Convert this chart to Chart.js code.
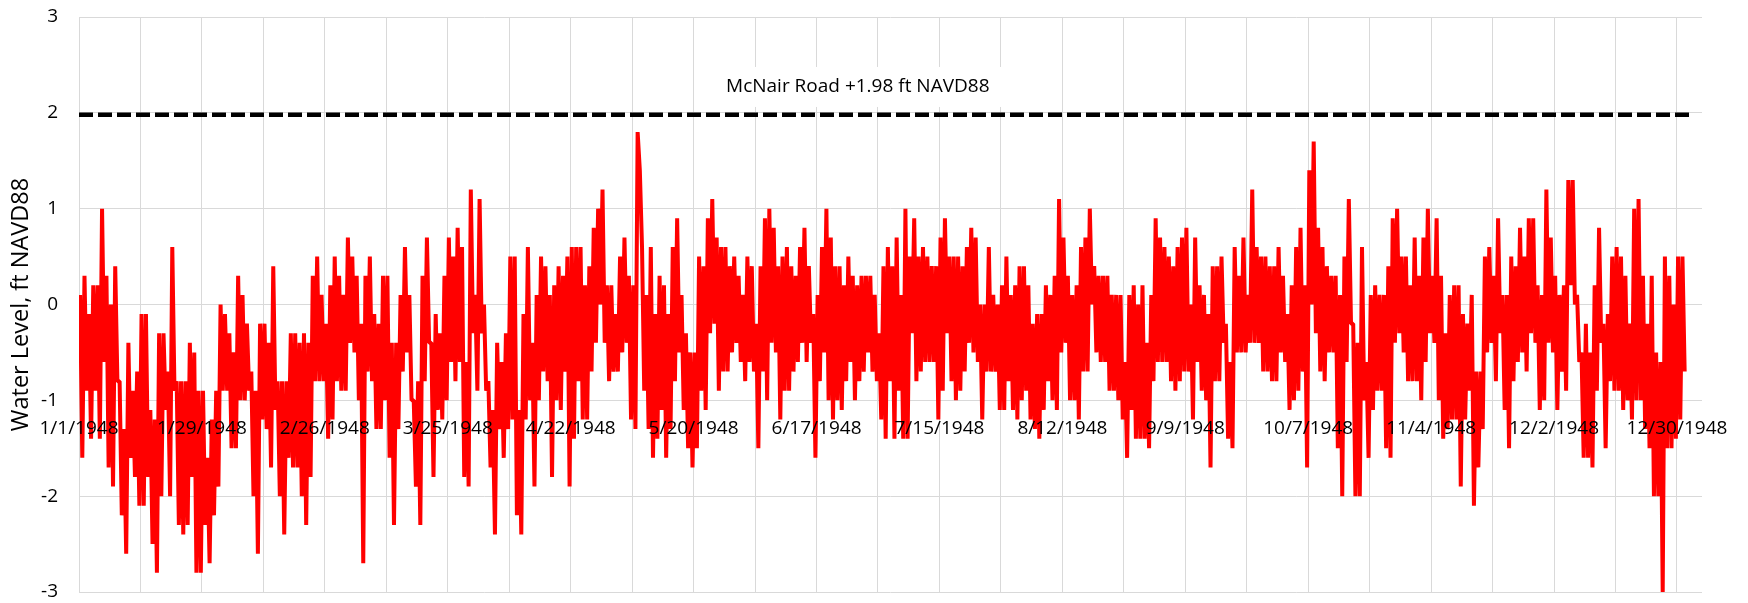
<!DOCTYPE html>
<html>
<head>
<meta charset="utf-8">
<title>Water Level 1948</title>
<script src="https://cdn.jsdelivr.net/npm/chart.js@4.4.1/dist/chart.umd.min.js"></script>
<style>
  html, body { margin: 0; padding: 0; background: #ffffff; }
  #wrap { width: 1748px; height: 603px; position: relative; }
</style>
</head>
<body>
<div id="wrap"><canvas id="chart" width="1748" height="603"></canvas></div>
<script>
// Date labels shown every 28 days along the horizontal axis (day 0 = 1/1/1948)
const tickDates = ['1/1/1948', '1/29/1948', '2/26/1948', '3/25/1948', '4/22/1948', '5/20/1948',
  '6/17/1948', '7/15/1948', '8/12/1948', '9/9/1948', '10/7/1948', '11/4/1948', '12/2/1948', '12/30/1948'];
const labelEveryDays = 28;
const gridEveryDays = 14;
const axisEndDay = 369.7;

// Daily high and low water level, ft NAVD88, one entry per day of 1948
const dailyHigh = [
  0.1, 0.3, -0.1, 0.2, 0.2, 1.0, 0.3, 0.0, 0.4, -0.8,
  -1.3, -0.4, -0.9, -0.7, -0.1, -0.1, -1.1, -1.2, -0.3, -0.3,
  -0.7, 0.6, -0.8, -0.8, -0.8, -0.4, -0.5, -0.9, -0.9, -1.6,
  -1.2, -0.9, 0.0, -0.1, -0.3, -0.5, 0.3, 0.1, -0.2, -0.7,
  -0.9, -0.2, -0.2, -0.4, 0.4, -0.8, -0.8, -0.8, -0.3, -0.3,
  -0.4, -0.3, -0.4, 0.3,
  0.5, 0.1, -0.2, 0.2, 0.5, 0.3, 0.1, 0.7, 0.5, 0.3,
  -0.2, 0.3, 0.5, -0.1, -0.2, 0.3, 0.3, -0.4, -0.4, 0.1,
  0.6, 0.1, -1.0, -0.8, 0.3, 0.7, -0.4, -0.1, -0.3, 0.3,
  0.7, 0.5, 0.8, 0.6, -0.6, 1.2, 0.1, 1.1, 0.0, -0.8,
  -1.1, -0.4, -0.6, -0.3, 0.5, 0.5, -1.1, -0.1, 0.6, -0.4,
  0.1, 0.5, 0.4, 0.1, 0.2, 0.4, 0.3, 0.5,
  0.6, 0.6, 0.6, 0.2, 0.4, 0.8, 1.0, 1.2, 0.2, 0.2,
  -0.1, 0.5, 0.7, 0.3, 0.2, 1.8, 0.6, 0.1, 0.6, -0.1,
  0.3, 0.2, -0.1, 0.6, 0.9, 0.1, -0.3, -0.5, -0.5, 0.5,
  0.4, 0.9, 1.1, 0.7, 0.6, 0.6, 0.4, 0.5, 0.3, 0.1,
  0.5, 0.4, -0.2, 0.4, 0.9, 1.0, 0.8, 0.4, 0.5, 0.6,
  0.4, 0.3, 0.6, 0.8, 0.4, -0.1, 0.1, 0.6,
  1.0, 0.7, 0.4, 0.4, 0.2, 0.5, 0.3, 0.2, 0.3, 0.3,
  0.3, 0.1, -0.3, 0.4, 0.6, 0.4, 0.7, 0.1, 1.0, 0.5,
  0.9, 0.5, 0.6, 0.5, 0.4, 0.4, 0.7, 0.9, 0.5, 0.5,
  0.5, 0.4, 0.6, 0.8, 0.7, 0.0, 0.0, 0.6, 0.1, 0.0,
  0.2, 0.5, 0.1, 0.2, 0.4, 0.4, 0.2, -0.2, -0.1, -0.1,
  0.2, 0.1, 0.3, 1.1, 0.7, 0.3, 0.1, 0.2, 0.6,
  0.7, 1.0, 0.4, 0.3, 0.3, 0.3, 0.1, 0.1, 0.1, -0.6,
  0.1, 0.2, 0.0, 0.2, -0.4, 0.1, 0.9, 0.7, 0.6, 0.5,
  0.4, 0.6, 0.7, 0.8, 0.0, 0.7, 0.2, 0.1, -0.1, 0.4,
  0.4, 0.5, -0.2, -0.6, 0.6, 0.3, 0.7, 0.1, 1.2, 0.6,
  0.5, 0.5, 0.4, 0.4, 0.6, 0.3, -0.1, 0.2, 0.6, 0.8,
  0.2, 1.4, 1.7, 0.8, 0.6, 0.4, 0.3, 0.3,
  0.1, 0.5, 1.1, -0.2, -0.4, 0.6, -0.6, 0.1, 0.2, 0.1,
  0.1, 0.4, 0.9, 1.0, 0.5, 0.5, 0.2, 0.7, 0.3, 0.7,
  1.0, 0.3, 0.9, 0.3, -0.3, 0.1, 0.2, 0.2, -0.1, -0.2,
  0.1, -0.7, -0.7, 0.5, 0.6, 0.3, 0.9, 0.1, 0.1, 0.5,
  0.4, 0.8, 0.5, 0.9, 0.9, 0.2, 0.1, 1.2, 0.7, 0.3,
  0.1, 0.2, 1.3, 1.3, 0.1, -0.5, -0.2, -0.5, 0.2, 0.8,
  -0.2, -0.1, 0.5, 0.6, 0.5, 0.3, -0.2, 1.0,
  1.1, 0.3, -0.2, 0.3, -0.5, -0.6, 0.5, 0.3, 0.0, 0.5, 0.5
];

const dailyLow = [
  -1.6, -0.9, -1.4, -0.9, -1.4, -0.6, -1.7, -1.9, -0.8, -2.2,
  -2.6, -1.6, -1.8, -2.1, -2.1, -1.8, -2.5, -2.8, -2.0, -1.1,
  -2.0, -0.9, -2.3, -2.4, -2.3, -1.8, -2.8, -2.8, -2.3, -2.7,
  -2.2, -1.9, -0.9, -0.9, -1.5, -1.5, -1.0, -1.0, -0.9, -2.0,
  -2.6, -1.2, -1.3, -1.7, -1.1, -2.0, -2.4, -1.6, -1.7, -1.7,
  -2.0, -2.3, -1.8, -0.8,
  -0.8, -0.8, -1.4, -1.2, -0.8, -0.9, -0.9, -0.4, -0.5, -1.0,
  -2.7, -0.7, -0.8, -1.3, -1.3, -1.0, -1.6, -2.3, -1.3, -0.7,
  -0.5, -1.0, -1.9, -2.3, -0.8, -0.4, -1.8, -1.1, -1.2, -1.0,
  -0.6, -0.8, -0.6, -1.8, -1.9, -0.3, -0.9, -0.3, -0.9, -1.7,
  -2.4, -1.3, -1.6, -1.3, -1.2, -2.2, -2.4, -1.2, -1.0, -1.9,
  -1.0, -0.7, -0.8, -1.8, -1.0, -1.1, -0.7, -1.9,
  -1.4, -0.8, -1.2, -1.2, -0.7, -0.4, 0.0, -0.4, -0.8, -0.7,
  -0.7, -0.5, -0.4, -1.2, -1.3, 1.4, -0.9, -1.3, -1.6, -1.4,
  -1.1, -1.6, -1.3, -0.8, -0.5, -1.1, -1.5, -1.7, -1.5, -0.9,
  -1.1, -0.3, -0.2, -0.9, -0.7, -0.7, -0.5, -0.4, -0.6, -0.8,
  -0.6, -0.7, -1.5, -0.7, -1.0, -0.4, -0.5, -1.2, -0.9, -0.9,
  -0.7, -0.6, -0.4, -0.6, -0.4, -1.6, -0.8, -0.5,
  -1.0, -1.2, -1.0, -1.1, -0.8, -0.6, -1.0, -0.8, -0.7, -0.5,
  -0.7, -0.8, -1.2, -1.4, -0.8, -1.4, -0.9, -1.4, -1.4, -0.3,
  -0.8, -0.7, -0.6, -0.6, -0.6, -1.2, -0.9, -0.3, -0.8, -1.0,
  -0.9, -0.7, -0.4, -0.5, -0.6, -1.2, -0.7, -0.7, -0.7, -1.1,
  -1.1, -0.8, -1.1, -1.2, -1.0, -0.9, -1.2, -1.3, -1.4, -1.1,
  -0.8, -1.0, -1.1, -0.5, -0.4, -1.0, -1.0, -1.2, -0.7,
  -0.7, 0.0, -0.5, -0.6, -0.6, -0.9, -0.9, -1.0, -1.2, -1.6,
  -1.1, -1.4, -1.4, -1.4, -1.5, -0.8, -0.6, -0.6, -0.6, -0.8,
  -0.9, -0.8, -0.7, -0.7, -1.2, -0.6, -0.9, -1.0, -1.7, -0.8,
  -0.8, -0.4, -1.4, -1.5, -0.5, -0.5, -0.5, -0.4, -0.4, -0.4,
  -0.7, -0.7, -0.8, -0.8, -0.5, -0.6, -1.1, -1.0, -0.9, -0.7,
  -1.7, 0.0, -0.3, -0.7, -0.8, -0.5, -0.5, -1.5,
  -2.0, -0.6, -0.2, -2.0, -2.0, -1.0, -1.6, -1.1, -0.9, -0.9,
  -1.5, -1.6, -0.4, -0.3, -0.5, -0.8, -0.8, -0.8, -1.0, -0.6,
  -0.3, -0.4, -1.0, -1.4, -1.3, -1.2, -1.2, -1.9, -1.2, -0.9,
  -2.1, -1.7, -1.3, -0.5, -0.4, -0.8, -0.3, -1.1, -1.5, -0.8,
  -0.6, -0.5, -0.7, -0.3, -0.4, -1.1, -1.0, -0.4, -0.5, -1.1,
  -0.7, -0.9, 0.2, 0.0, -0.6, -1.6, -1.6, -1.7, -0.9, -0.4,
  -1.5, -0.8, -0.9, -0.9, -1.1, -1.0, -1.2, -1.0,
  -1.0, -1.3, -1.5, -2.0, -2.0, -3.0, -1.5, -1.5, -1.4, -1.2, -0.7
];

// Road crest elevation drawn as a dashed reference line
const roadLevel = 1.98;
const roadSpanDays = [0, 367.4];
const roadLabel = 'McNair Road +1.98 ft NAVD88';
const roadLabelAt = { day: 177.4, level: 2.27 };

const FONT = '"Open Sans", "Noto Sans", "DejaVu Sans", sans-serif';

// Each day contributes its high then its low, giving the tidal zig-zag
const levelPoints = [];
dailyHigh.forEach((hi, i) => {
  levelPoints.push({ x: i + 0.25, y: hi });
  levelPoints.push({ x: i + 0.75, y: dailyLow[i] });
});
const roadPoints = roadSpanDays.map(d => ({ x: d, y: roadLevel }));

const roadLabelPlugin = {
  id: 'roadLabel',
  beforeDatasetsDraw(chart) {
    const { ctx, scales: { x, y } } = chart;
    const cx = x.getPixelForValue(roadLabelAt.day);
    const cy = y.getPixelForValue(roadLabelAt.level);
    ctx.save();
    ctx.font = '19px ' + FONT;
    const w = ctx.measureText(roadLabel).width;
    ctx.fillStyle = '#ffffff';
    ctx.fillRect(cx - w / 2 - 20, cy - 20, w + 40, 40);
    ctx.fillStyle = '#000000';
    ctx.textAlign = 'center';
    ctx.textBaseline = 'middle';
    ctx.fillText(roadLabel, cx, cy);
    ctx.restore();
  }
};

const gridColor = '#d9d9d9';

new Chart(document.getElementById('chart'), {
  type: 'line',
  data: {
    datasets: [
      {
        label: 'Water Level',
        data: levelPoints,
        borderColor: '#ff0000',
        backgroundColor: '#ff0000',
        borderWidth: 4,
        borderJoinStyle: 'bevel',
        pointRadius: 0,
        tension: 0,
        fill: false
      },
      {
        label: roadLabel,
        data: roadPoints,
        borderColor: '#000000',
        borderWidth: 4.5,
        borderDash: [14, 5],
        borderCapStyle: 'butt',
        pointRadius: 0,
        fill: false
      }
    ]
  },
  options: {
    responsive: false,
    animation: false,
    devicePixelRatio: 1,
    layout: { padding: { top: 17, right: 46, bottom: 11, left: 0 } },
    plugins: {
      legend: { display: false },
      tooltip: { enabled: false }
    },
    scales: {
      x: {
        type: 'linear',
        min: 0,
        max: axisEndDay,
        position: { y: -1 },
        afterBuildTicks(axis) {
          const t = [];
          for (let d = 0; d <= (tickDates.length - 1) * labelEveryDays; d += gridEveryDays) t.push({ value: d });
          axis.ticks = t;
        },
        grid: { color: gridColor, lineWidth: 1, drawTicks: false, z: -1 },
        border: { display: false },
        ticks: {
          z: 1, // date labels sit on top of the water level trace
          autoSkip: false,
          maxRotation: 0,
          minRotation: 0,
          padding: 17,
          color: '#000000',
          font: { family: FONT, size: 19 },
          callback: (v) => (v % labelEveryDays === 0 ? tickDates[v / labelEveryDays] : '')
        }
      },
      y: {
        min: -3,
        max: 3,
        afterFit(scale) {
          scale.width = 79;
          scale.paddingTop = 0;
          scale.paddingBottom = 0;
        },
        grid: { color: gridColor, lineWidth: 1, drawTicks: false },
        border: { display: false },
        ticks: {
          stepSize: 1,
          padding: 21,
          color: '#000000',
          font: { family: FONT, size: 19 }
        },
        title: {
          display: true,
          text: 'Water Level, ft NAVD88',
          color: '#000000',
          font: { family: FONT, size: 23.5 },
          padding: { top: 7, bottom: 0 }
        }
      }
    }
  },
  plugins: [roadLabelPlugin]
});
</script>
</body>
</html>
